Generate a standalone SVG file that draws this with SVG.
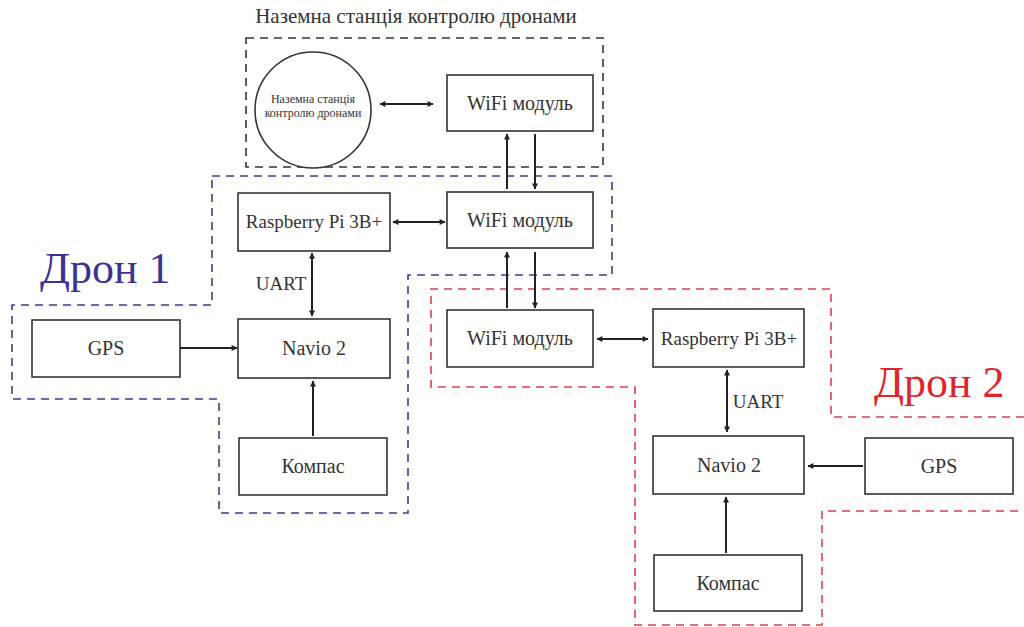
<svg xmlns="http://www.w3.org/2000/svg" width="1024" height="627" viewBox="0 0 1024 627" font-family="'Liberation Serif', 'Times New Roman', serif">
<style>
.box{fill:#fff;stroke:#333;stroke-width:1.6}
.t{fill:#333;text-anchor:middle}
.lbl{font-size:20px}
.small{font-size:12px}
.con{stroke:#222;stroke-width:2;fill:none}
.dash{fill:none;stroke-width:1.6;stroke-dasharray:8 6}
</style>
<defs>
<marker id="ah" viewBox="0 0 10 10" refX="9" refY="5" markerWidth="8" markerHeight="6" markerUnits="userSpaceOnUse" orient="auto-start-reverse">
<path d="M0,0 L10,5 L0,10 Z" fill="#222"/>
</marker>
</defs>
<rect width="1024" height="627" fill="#fff"/>

<g id="groups">
<text class="t" x="416" y="23" font-size="21">Наземна станція контролю дронами</text>
<rect class="dash" x="246" y="38" width="357" height="129" stroke="#333"/>
<path class="dash" stroke="#3f3b8c" d="M212 176 H612 V275 H408 V513 H219 V399 H12 V305 H212 Z"/>
<path class="dash" stroke="#e0404c" d="M1024 417 H831 V289 H431 V387 H635 V625 H822 V511 H1024"/>
<text x="40" y="283" font-size="44" fill="#3a3490">Дрон 1</text>
<text x="874" y="397" font-size="44" fill="#e0242c">Дрон 2</text>
</g>

<g id="gcs">
<circle cx="313" cy="110" r="58" fill="#fff" stroke="#333" stroke-width="1.6"/>
<text class="t small" x="313" y="103">Наземна станція</text>
<text class="t small" x="313" y="117">контролю дронами</text>
</g>
<g id="wifi-gcs">
<rect class="box" x="447" y="75" width="146" height="56"/>
<text class="t lbl" x="520" y="110">WiFi модуль</text>
</g>

<g id="wifi-d1">
<rect class="box" x="447" y="192" width="146" height="56"/>
<text class="t lbl" x="520" y="227">WiFi модуль</text>
</g>
<g id="rpi-d1">
<rect class="box" x="238" y="193" width="152" height="58"/>
<text class="t" font-size="19" x="314" y="228">Raspberry Pi 3B+</text>
</g>
<g id="navio-d1">
<rect class="box" x="238" y="319" width="152" height="59"/>
<text class="t lbl" x="314" y="355">Navio 2</text>
</g>
<g id="gps-d1">
<rect class="box" x="32" y="320" width="148" height="57"/>
<text class="t lbl" x="106" y="355">GPS</text>
</g>
<g id="compass-d1">
<rect class="box" x="239" y="438" width="148" height="57"/>
<text class="t lbl" x="313" y="473">Компас</text>
</g>

<g id="wifi-d2">
<rect class="box" x="447" y="310" width="146" height="57"/>
<text class="t lbl" x="520" y="345">WiFi модуль</text>
</g>
<g id="rpi-d2">
<rect class="box" x="653" y="309" width="151" height="58"/>
<text class="t" font-size="19" x="729" y="345">Raspberry Pi 3B+</text>
</g>
<g id="navio-d2">
<rect class="box" x="653" y="436" width="151" height="58"/>
<text class="t lbl" x="729" y="472">Navio 2</text>
</g>
<g id="gps-d2">
<rect class="box" x="865" y="438" width="148" height="56"/>
<text class="t lbl" x="939" y="473">GPS</text>
</g>
<g id="compass-d2">
<rect class="box" x="654" y="555" width="148" height="56"/>
<text class="t lbl" x="728" y="590">Компас</text>
</g>

<g id="connectors">
<line class="con" x1="380" y1="104" x2="433" y2="104" marker-start="url(#ah)" marker-end="url(#ah)"/>
<line class="con" x1="507" y1="189" x2="507" y2="134" marker-end="url(#ah)"/>
<line class="con" x1="535" y1="134" x2="535" y2="189" marker-end="url(#ah)"/>
<line class="con" x1="393" y1="222" x2="445" y2="222" marker-start="url(#ah)" marker-end="url(#ah)"/>
<line class="con" x1="312" y1="253" x2="312" y2="316" marker-start="url(#ah)" marker-end="url(#ah)"/>
<text class="t" font-size="19" x="281" y="290">UART</text>
<line class="con" x1="180" y1="348" x2="237" y2="348" marker-end="url(#ah)"/>
<line class="con" x1="313" y1="436" x2="313" y2="381" marker-end="url(#ah)"/>
<line class="con" x1="507" y1="308" x2="507" y2="252" marker-end="url(#ah)"/>
<line class="con" x1="535" y1="252" x2="535" y2="308" marker-end="url(#ah)"/>
<line class="con" x1="597" y1="339" x2="648" y2="339" marker-start="url(#ah)" marker-end="url(#ah)"/>
<line class="con" x1="727" y1="370" x2="727" y2="432" marker-start="url(#ah)" marker-end="url(#ah)"/>
<text class="t" font-size="19" x="758" y="408">UART</text>
<line class="con" x1="863" y1="466" x2="808" y2="466" marker-end="url(#ah)"/>
<line class="con" x1="726" y1="553" x2="726" y2="497" marker-end="url(#ah)"/>
</g>
</svg>
